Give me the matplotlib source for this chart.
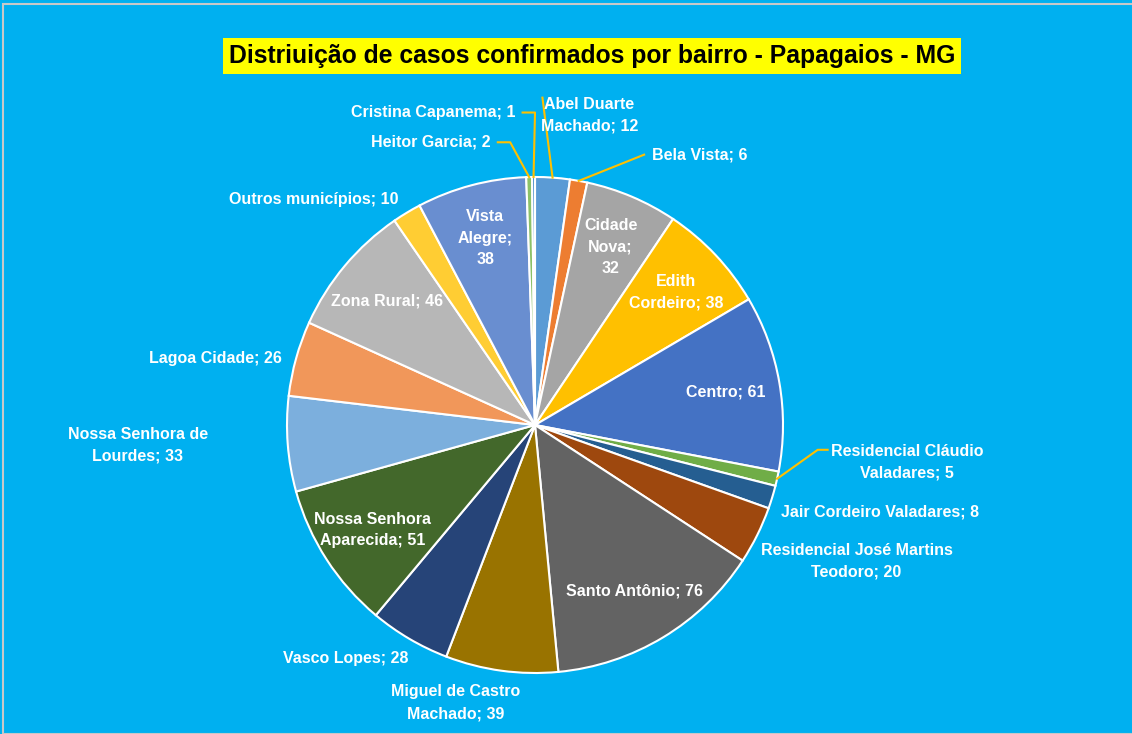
import numpy as np
import matplotlib
matplotlib.use("Agg")
import matplotlib.pyplot as plt
from matplotlib.patches import Rectangle

# Dados do gráfico (ordem horária a partir do topo)
bairros = [
    "Abel Duarte\nMachado", "Bela Vista", "Cidade\nNova;", "Edith\nCordeiro", "Centro",
    "Residencial Cláudio\nValadares", "Jair Cordeiro Valadares",
    "Residencial José Martins\nTeodoro", "Santo Antônio", "Miguel de Castro\nMachado",
    "Vasco Lopes", "Nossa Senhora\nAparecida", "Nossa Senhora de\nLourdes",
    "Lagoa Cidade", "Zona Rural", "Outros municípios", "Vista\nAlegre;",
    "Heitor Garcia", "Cristina Capanema",
]
casos = [12, 6, 32, 38, 61, 5, 8, 20, 76, 39, 28, 51, 33, 26, 46, 10, 38, 2, 1]

cores = [
    "#5B9BD5", "#ED7D31", "#A5A5A5", "#FFC000", "#4472C4", "#70AD47", "#255E91",
    "#9E480E", "#636363", "#997300", "#264478", "#43682B", "#7CAFDD", "#F1975A",
    "#B7B7B7", "#FFCD33", "#698ED0", "#8CC168", "#327DC2",
]

titulo = "Distriuição de casos confirmados por bairro - Papagaios - MG"

# Rótulos externos: posição do texto (unidades do raio), alinhamento, linha guia
externos = {
    0: (0.22, 1.25, "center", True),
    1: (0.47, 1.09, "left", True),
    5: (1.5, -0.15, "center_left", True),
    6: (0.99, -0.35, "left", False),
    7: (0.91, -0.55, "left", False),
    9: (-0.32, -1.12, "center", False),
    10: (-0.51, -0.94, "right", False),
    12: (-1.32, -0.08, "right", False),
    13: (-1.02, 0.27, "right", False),
    15: (-0.55, 0.91, "right", False),
    17: (-0.18, 1.14, "right", True),
    18: (-0.08, 1.26, "right", True),
}

fundo = "#00B0F0"
raio_px = 248
cx, cy = 535, 425
W, H = 1132, 734

fig = plt.figure(figsize=(W / 100, H / 100), dpi=100)
fig.patch.set_facecolor(fundo)
ax = fig.add_axes([0, 0, 1, 1])
ax.set_facecolor(fundo)

wedges, _ = ax.pie(casos, colors=cores, startangle=90, counterclock=False, radius=1,
                   wedgeprops=dict(edgecolor="white", linewidth=1.5))

ax.set_xlim(-cx / raio_px, (W - cx) / raio_px)
ax.set_ylim(-(H - cy) / raio_px, cy / raio_px)
ax.set_aspect("equal")
ax.axis("off")

fonte = dict(color="white", fontsize=11.5, fontweight="bold", family="Liberation Sans",
             linespacing=1.55)
guia = "#FFC000"

for i, (w, nome, n) in enumerate(zip(wedges, bairros, casos)):
    ang = np.deg2rad((w.theta1 + w.theta2) / 2)
    if nome.endswith(";"):
        texto = f"{nome}\n{n}"
    else:
        texto = f"{nome}; {n}"
    if i in externos:
        x, y, al, linha = externos[i]
        ha = "center" if al == "center_left" else al
        ax.text(x, y, texto, ha=ha, va="center", multialignment="center", **fonte)
        if linha:
            ex, ey = np.cos(ang), np.sin(ang)
            if al == "right":
                tx = x + 0.03
                ax.plot([tx, tx + 0.05, ex], [y, y, ey], color=guia, lw=1.5)
            elif al == "left":
                ax.plot([ex, x - 0.03], [ey, y], color=guia, lw=1.5)
            elif al == "center_left":
                ax.plot([ex, x - 0.36, x - 0.32], [ey, y + 0.05, y + 0.05], color=guia, lw=1.5)
            else:
                ax.plot([ex, x - 0.19], [ey, y + 0.07], color=guia, lw=1.5)
    else:
        r = 0.78
        ax.text(r * np.cos(ang), r * np.sin(ang), texto, ha="center", va="center",
                multialignment="center", **fonte)

# Título com caixa amarela
fig.text(592 / W, 1 - 56 / H, titulo, ha="center", va="center", fontsize=17.8,
         fontweight="bold", family="Liberation Sans", color="black",
         bbox=dict(facecolor="#FFFF00", edgecolor="none", pad=4.5))

# Moldura
fig.patches.append(Rectangle((3 / W, 0), 1, 1 - 4 / H, transform=fig.transFigure,
                             fill=False, edgecolor="#C8C8C8", linewidth=1.5))

fig.savefig("out.png", dpi=100, facecolor=fundo)
